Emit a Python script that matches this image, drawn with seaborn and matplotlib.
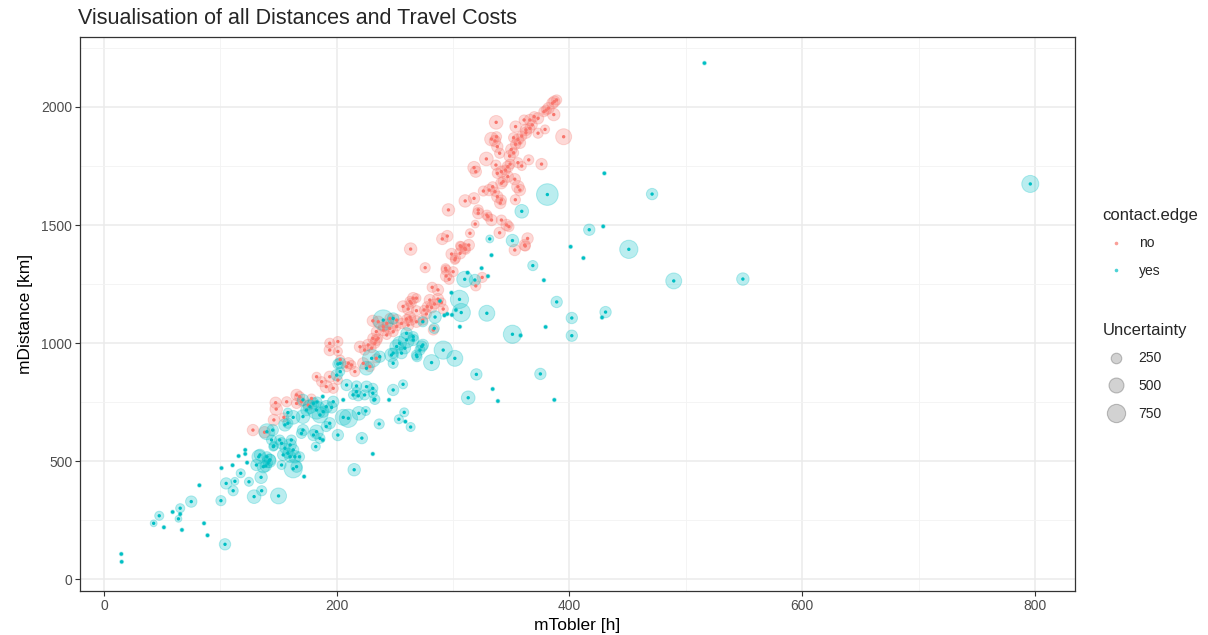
import pandas as pd
import seaborn as sns
import matplotlib.pyplot as plt
from matplotlib.lines import Line2D

# contact.edge == "no"
no_tobler = [128, 147.5, 148, 157, 146, 165.5, 165.5, 154.6, 138, 168, 169.7, 175.5, 178.3, 182.7, 187,
             191, 194, 197, 201, 194, 201, 201, 194, 203, 210, 208.5, 212.7, 215.6, 222.8, 228.5,
             234, 220, 224, 227, 230, 232.8, 234, 235.6, 231, 234, 240, 243, 245.6, 248.5, 231,
             240, 243, 235.7, 245.7, 251.5, 255.7, 261.4, 264, 268.5, 274, 251.5, 257, 264, 265.7, 263,
             268.5, 261.4, 268.5, 263, 260, 277, 281.5, 284, 287, 290, 291.5, 263.5, 276, 294, 294,
             296.6, 293.5, 300, 287, 282, 280, 277.8, 275, 283, 298.7, 302, 306, 310, 313.5, 306,
             310.7, 301.5, 307, 290.7, 295, 296, 310.4, 318, 314.5, 319, 325, 319.5, 318, 319.5, 328.6,
             333, 336, 337, 340, 353, 361.5, 364, 362, 346, 341.5, 333, 329, 321.6, 321.6, 330,
             348, 340.5, 341.5, 338, 353.5, 355.7, 357.4, 326, 331, 336, 334, 341.5, 343, 347, 338,
             341.5, 345, 347, 349, 353, 365, 376, 355.7, 359, 336.8, 348.6, 352, 350, 353.7, 355.7,
             359, 362.6, 352, 357.4, 353.7, 361, 366, 369.7, 373, 368, 362.6, 366, 379, 373, 386.5,
             382, 385.4, 389, 387, 380, 395, 378, 338, 340, 337.3]
no_dist = [631, 747, 720, 751, 674, 780, 744, 685, 622, 773, 751, 737, 765, 857, 836,
           815, 857, 808, 843, 970, 1006, 964, 999, 930, 914, 900, 907, 879, 914, 900,
           935, 984, 970, 992, 978, 999, 1013, 1020, 1020, 1048, 1055, 1034, 1062, 1048, 1094,
           1069, 1083, 1090, 1104, 1097, 1083, 1076, 1097, 1090, 1097, 1070, 1155, 1169, 1190, 1176,
           1190, 1144, 1137, 1109, 1102, 1123, 1151, 1165, 1186, 1172, 1144, 1398, 1319, 1309, 1284,
           1270, 1317, 1302, 1225, 1236, 1182, 1154, 1140, 1055, 1377, 1359, 1380, 1401, 1415, 1412,
           1397, 1352, 1408, 1441, 1453, 1564, 1602, 1613, 1465, 1504, 1278, 1242, 1743, 1726, 1780,
           1864, 1856, 1935, 1467, 1394, 1415, 1443, 1411, 1500, 1521, 1521, 1542, 1550, 1564, 1535,
           1493, 1593, 1606, 1620, 1607, 1662, 1648, 1644, 1648, 1641, 1662, 1677, 1684, 1705, 1719,
           1726, 1733, 1747, 1758, 1694, 1776, 1758, 1764, 1750, 1754, 1792, 1806, 1820, 1842, 1862,
           1877, 1891, 1870, 1848, 1917, 1945, 1945, 1959, 1952, 1924, 1903, 1910, 1905, 1889, 1968,
           1995, 2016, 2030, 2023, 1987, 1874, 1980, 1832, 1804, 1874]
no_unc = [250, 250, 300, 200, 250, 250, 200, 160, 250, 200, 160, 200, 160, 160, 200,
          300, 250, 200, 160, 250, 200, 160, 200, 160, 250, 200, 160, 200, 250, 200,
          160, 250, 200, 250, 160, 200, 250, 160, 200, 200, 250, 160, 250, 200, 250,
          200, 160, 250, 200, 250, 200, 250, 200, 250, 200, 160, 250, 200, 250, 200,
          160, 250, 200, 250, 160, 200, 250, 200, 250, 160, 200, 300, 200, 200, 250,
          200, 160, 200, 250, 200, 250, 200, 160, 200, 250, 200, 250, 200, 250, 160,
          200, 160, 200, 250, 250, 300, 300, 250, 160, 120, 200, 200, 300, 250, 360,
          360, 250, 360, 250, 250, 250, 250, 200, 250, 200, 250, 200, 250, 200, 160,
          200, 250, 200, 250, 200, 300, 250, 200, 250, 160, 200, 250, 200, 250, 200,
          250, 200, 250, 200, 250, 200, 250, 200, 160, 200, 250, 200, 250, 200, 250,
          200, 250, 200, 250, 250, 200, 250, 200, 250, 200, 250, 200, 160, 200, 300,
          250, 250, 200, 250, 200, 490, 200, 250, 200, 200]

# contact.edge == "yes"
yes_tobler = [14.9, 15.2, 42.7, 47.5, 51.5, 59, 65.5, 65.5, 64, 67, 75, 82, 86, 89, 104,
              100.5, 101, 110.5, 105, 112.5, 111, 117.5, 115.7, 121.4, 121.4, 123, 124.6, 135, 135.5, 129,
              150, 133, 131, 139, 142, 152.6, 162.6, 168, 134, 140, 142.6, 137, 141, 140, 145,
              155.5, 162.6, 158, 144, 146, 152.6, 155.5, 160, 162.6, 158, 154, 164, 161, 145.5, 151,
              160, 165.5, 172, 158, 171, 174, 177, 180, 182.6, 185.6, 188.4, 191, 194, 191, 182.6,
              180, 185.6, 182, 171, 169.7, 188, 201, 210, 219, 225, 205.6, 195.6, 197, 205.6, 221.6,
              231, 215, 236.5, 258, 253.4, 259, 263.5, 245, 257, 248.5, 171, 183, 188, 208.5, 217,
              225.6, 231, 214, 218.5, 231, 232.8, 217, 224, 232, 203, 200, 201, 203, 230, 225.6,
              237, 247, 254, 251.5, 248.5, 255.7, 260, 265.7, 271.5, 273, 248.5, 260, 265.7, 268.5, 258.6,
              240, 248.5, 269, 274, 291.5, 281.5, 301.5, 320, 313, 274, 283.8, 284.5, 292.5, 295, 299,
              302.4, 305.8, 298.6, 288.7, 305.5, 307, 310, 312.5, 318.7, 324.5, 330, 329, 331.5, 333, 351,
              359, 381, 368.5, 378, 389, 379.5, 351, 358, 375, 334, 338.5, 387, 401, 412, 417,
              429, 430, 431, 428, 402, 402, 451, 471, 489.6, 549, 516, 796]
yes_dist = [106, 73, 236, 268, 219, 284, 300, 275, 255, 208, 328, 397, 236, 185, 147,
            332, 470, 482, 405, 414, 374, 448, 521, 547, 530, 493, 412, 431, 374, 349,
            352, 518, 483, 479, 501, 483, 467, 518, 526, 518, 505, 476, 491, 624, 631,
            653, 685, 705, 589, 564, 575, 554, 568, 547, 533, 526, 518, 589, 561, 589,
            518, 476, 434, 660, 688, 716, 730, 744, 716, 695, 709, 730, 660, 646, 624,
            610, 596, 561, 631, 617, 589, 610, 681, 702, 712, 685, 727, 751, 759, 597,
            530, 463, 657, 706, 677, 667, 644, 759, 825, 801, 759, 750, 773, 822, 818,
            815, 808, 780, 776, 787, 761, 794, 780, 759, 914, 864, 911, 879, 935, 893,
            942, 949, 999, 985, 957, 957, 1013, 1013, 970, 985, 914, 1041, 1027, 949, 978,
            1097, 1104, 942, 992, 970, 917, 935, 867, 768, 1090, 1062, 1110, 1117, 1123, 1119,
            1140, 1069, 1213, 1178, 1185, 1129, 1270, 1298, 1267, 1317, 1283, 1126, 1441, 1372, 1434,
            1558, 1629, 1328, 1266, 1174, 1068, 1037, 1032, 869, 805, 754, 759, 1408, 1360, 1480,
            1494, 1719, 1131, 1108, 1106, 1031, 1397, 1631, 1263, 1271, 2186, 1674]
yes_unc = [30, 30, 90, 160, 30, 30, 160, 30, 90, 30, 250, 30, 30, 30, 250,
           200, 30, 30, 250, 120, 200, 160, 30, 30, 30, 30, 160, 300, 200, 360,
           490, 360, 250, 250, 360, 160, 640, 200, 250, 200, 250, 300, 160, 490, 250,
           300, 360, 160, 200, 160, 250, 200, 300, 250, 200, 250, 300, 200, 160, 200,
           250, 250, 30, 200, 360, 250, 360, 250, 640, 490, 250, 300, 250, 200, 360,
           250, 200, 160, 250, 200, 30, 250, 640, 360, 160, 490, 250, 250, 30, 250,
           30, 300, 200, 160, 160, 30, 160, 30, 160, 250, 250, 200, 30, 250, 200,
           250, 200, 160, 200, 160, 200, 160, 200, 30, 250, 250, 200, 160, 640, 360,
           250, 360, 360, 360, 200, 250, 490, 250, 200, 250, 200, 250, 200, 200, 250,
           810, 250, 200, 250, 640, 490, 490, 250, 360, 200, 200, 300, 30, 30, 30,
           30, 30, 30, 30, 640, 640, 490, 30, 250, 30, 30, 490, 120, 30, 300,
           360, 900, 200, 30, 250, 30, 640, 30, 250, 30, 30, 30, 30, 30, 250,
           30, 30, 250, 30, 250, 250, 640, 250, 490, 300, 30, 560]

edge_levels = ['no', 'yes']
edge_colors = ['#F8766D', '#00BFC4']
size_breaks = [250, 500, 750]

df = pd.concat([
    pd.DataFrame({'mTobler': no_tobler, 'mDistance': no_dist, 'Uncertainty': no_unc, 'contact.edge': 'no'}),
    pd.DataFrame({'mTobler': yes_tobler, 'mDistance': yes_dist, 'Uncertainty': yes_unc, 'contact.edge': 'yes'}),
], ignore_index=True)

pal = dict(zip(edge_levels, edge_colors))

# Punktfläche proportional zur Unsicherheit
u_max = 1500
s_per_unit = 0.27

sns.set_style('white')
plt.rcParams['font.family'] = ['Liberation Sans', 'DejaVu Sans']

fig = plt.figure(figsize=(12.08, 6.35), dpi=100)
ax = fig.add_axes([80 / 1208, 1 - 591 / 635, 995 / 1208, 554 / 635])

# Kreise (Unsicherheit)
sns.scatterplot(data=df, x='mTobler', y='mDistance', hue='contact.edge', palette=pal,
                size='Uncertainty', sizes=(0, u_max * s_per_unit), size_norm=(0, u_max),
                alpha=0.27, edgecolor='face', linewidth=0.7, legend=False, ax=ax, zorder=3)
# Mittelpunkte
sns.scatterplot(data=df, x='mTobler', y='mDistance', hue='contact.edge', palette=pal,
                s=6, linewidth=0, legend=False, ax=ax, zorder=4)

ax.set_xlim(-20.6, 834.4)
ax.set_ylim(-50.8, 2296.6)
ax.set_xticks([0, 200, 400, 600, 800])
ax.set_xticks([100, 300, 500, 700], minor=True)
ax.set_yticks([0, 500, 1000, 1500, 2000])
ax.set_yticks([250, 750, 1250, 1750, 2250], minor=True)
ax.grid(which='major', color='#EBEBEB', linewidth=1.1, zorder=0)
ax.grid(which='minor', color='#F3F3F3', linewidth=0.6, zorder=0)
ax.set_axisbelow(True)
for sp in ax.spines.values():
    sp.set_color('#333333')
    sp.set_linewidth(0.9)
ax.tick_params(which='major', length=3.5, width=0.8, color='#333333', labelcolor='#4D4D4D',
               labelsize=10, bottom=True, left=True, pad=2)
ax.tick_params(which='minor', length=0)

ax.set_xlabel('mTobler [h]', fontsize=12.5, labelpad=4, color='black')
ax.set_ylabel('mDistance [km]', fontsize=12.5, labelpad=6, color='black')
fig.text(78 / 1208, 1 - 19 / 635, 'Visualisation of all Distances and Travel Costs',
         fontsize=15.5, va='center', ha='left')

# Legenden
h_edge = [Line2D([], [], marker='o', linestyle='', markersize=2.6, markeredgewidth=0,
                 markerfacecolor=c, alpha=0.7) for c in edge_colors]
leg1 = ax.legend(h_edge, edge_levels, title='contact.edge', loc='upper left',
                 bbox_to_anchor=(1090 / 1208, 1 - 195 / 635), bbox_transform=fig.transFigure,
                 frameon=False, fontsize=10, title_fontsize=12, alignment='left',
                 labelspacing=1.0, handletextpad=0.6, handlelength=2.0)
ax.add_artist(leg1)

h_size = [Line2D([], [], marker='o', linestyle='', markersize=(u * 0.23) ** 0.5,
                 markerfacecolor=(0.5, 0.5, 0.5, 0.35), markeredgecolor=(0.45, 0.45, 0.45, 0.45),
                 markeredgewidth=0.8) for u in size_breaks]
ax.legend(h_size, [str(u) for u in size_breaks], title='Uncertainty', loc='upper left',
          bbox_to_anchor=(1090 / 1208, 1 - 310 / 635), bbox_transform=fig.transFigure,
          frameon=False, fontsize=10, title_fontsize=12, alignment='left',
          labelspacing=1.0, handletextpad=0.6, handlelength=2.0)

fig.savefig('out.png', dpi=100)
